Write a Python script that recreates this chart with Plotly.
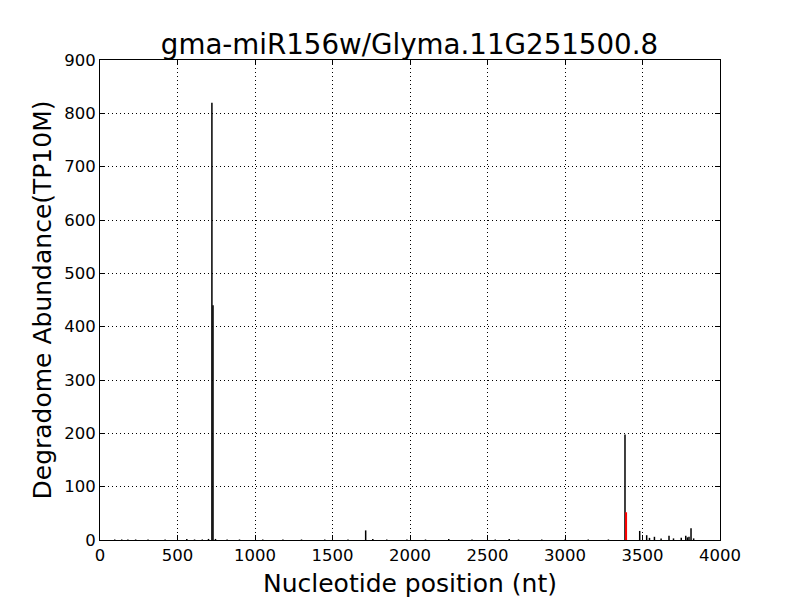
import plotly.graph_objects as go

positions = [95, 140, 180, 230, 310, 420, 560, 610, 660, 700, 722, 729, 745, 820, 900, 1050, 1180, 1300, 1450, 1600,
             1714, 1760, 1850, 1980, 2100, 2250, 2400, 2550, 2640, 2700, 2850, 3000, 3150, 3280, 3387,
             3482, 3527, 3545, 3577, 3620, 3671, 3700, 3750, 3779, 3790, 3800, 3813, 3830]
abundance = [1, 1, 1, 1, 1, 1, 2, 1, 1, 2, 820, 440, 2, 1, 1, 1, 1, 1, 1, 1,
             18, 2, 1, 1, 1, 2, 1, 1, 2, 1, 1, 1, 1, 1, 198,
             17, 9, 4, 6, 3, 8, 3, 4, 8, 5, 6, 22, 3]
target_pos = [3394]
target_val = [52]

def stems(xs, ys):
    sx, sy = [], []
    for x, y in zip(xs, ys):
        sx += [x, x, None]
        sy += [0, y, None]
    return sx, sy

bx, by = stems(positions, abundance)
rx, ry = stems(target_pos, target_val)

fig = go.Figure()
fig.add_trace(go.Scatter(x=bx, y=by, mode="lines", line=dict(color="black", width=1.5),
                         showlegend=False, hoverinfo="skip"))
fig.add_trace(go.Scatter(x=rx, y=ry, mode="lines", line=dict(color="red", width=2),
                         showlegend=False, hoverinfo="skip"))

axis_common = dict(showline=True, linecolor="black", linewidth=1, mirror="allticks",
                   ticks="inside", ticklen=5, tickcolor="black", automargin=False,
                   showgrid=True, gridcolor="black", gridwidth=0.6, griddash="1px,3px",
                   zeroline=False, tickfont=dict(size=16.5, color="black", family="DejaVu Sans"))

W, H = 792, 592
fig.update_layout(
    width=W, height=H,
    margin=dict(l=92, r=80, t=52, b=60),
    paper_bgcolor="white", plot_bgcolor="white",
    title=dict(text="gma-miR156w/Glyma.11G251500.8", x=401.5 / W, xanchor="center",
               yref="container", y=1 - 36 / H, yanchor="middle",
               font=dict(size=27.7, color="black", family="DejaVu Sans")),
    xaxis=dict(range=[0, 4000], tickvals=[0, 500, 1000, 1500, 2000, 2500, 3000, 3500, 4000],
               title=dict(text="Nucleotide position (nt)", font=dict(size=25, color="black", family="DejaVu Sans"), standoff=10),
               **axis_common),
    yaxis=dict(range=[0, 900], tickvals=[0, 100, 200, 300, 400, 500, 600, 700, 800, 900],
               title=dict(text="Degradome Abundance(TP10M)", font=dict(size=25, color="black", family="DejaVu Sans"), standoff=5),
               **axis_common),
)

fig.write_html("out.html")
